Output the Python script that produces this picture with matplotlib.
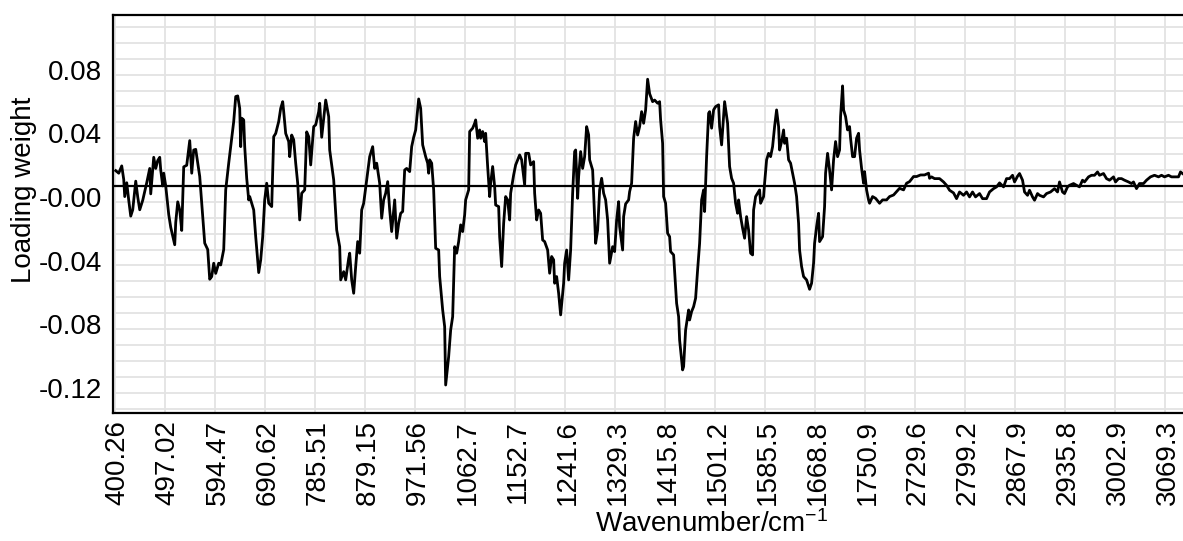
import numpy as np
import matplotlib
matplotlib.use("Agg")
import matplotlib.pyplot as plt
from matplotlib.transforms import ScaledTranslation

plt.rcParams['font.family'] = ['Liberation Sans', 'DejaVu Sans']
plt.rcParams['mathtext.default'] = 'regular'
plt.rcParams['axes.unicode_minus'] = False

# wavenumber labels, one every 50 spectral channels
wn_labels = ['400.26', '497.02', '594.47', '690.62', '785.51', '879.15', '971.56',
             '1062.7', '1152.7', '1241.6', '1329.3', '1415.8', '1501.2', '1585.5',
             '1668.8', '1750.9', '2729.6', '2799.2', '2867.9', '2935.8', '3002.9',
             '3069.3']

# loading weights (channel index, value)
channel = [
    1, 4, 7, 9, 10, 12, 14, 16, 18, 21, 23, 25, 28, 32, 35, 36, 39, 41, 43, 45,
    46, 48, 49, 51, 54, 56, 60, 61, 63, 65, 67, 69, 72, 75, 77, 79, 81, 85, 88, 90,
    93, 95, 97, 99, 101, 104, 106, 109, 111, 114, 116, 119, 121, 123, 125, 126, 127, 129, 130, 132,
    134, 135, 139, 141, 144, 146, 148, 150, 152, 154, 157, 159, 161, 164, 166, 168, 169, 171, 174, 175,
    177, 179, 181, 183, 185, 187, 190, 192, 194, 196, 199, 201, 204, 205, 207, 209, 211, 214, 215, 219,
    222, 225, 226, 229, 231, 234, 235, 237, 239, 241, 243, 245, 247, 249, 252, 255, 258, 260, 262, 265,
    267, 269, 271, 273, 275, 277, 280, 282, 284, 286, 288, 290, 292, 295, 297, 299, 301, 304, 306, 308,
    311, 313, 314, 315, 317, 319, 321, 324, 325, 328, 330, 331, 334, 336, 338, 340, 342, 344, 346, 348,
    350, 351, 354, 355, 358, 360, 361, 363, 365, 366, 368, 370, 371, 373, 375, 376, 378, 380, 381, 384,
    385, 387, 389, 391, 393, 395, 396, 399, 401, 405, 407, 410, 411, 414, 416, 419, 420, 422, 424, 426,
    428, 430, 433, 435, 437, 439, 440, 442, 444, 446, 449, 450, 452, 454, 456, 458, 460, 461, 463, 464,
    466, 468, 470, 472, 474, 475, 478, 479, 481, 483, 485, 487, 489, 491, 493, 495, 498, 500, 502, 504,
    505, 508, 509, 511, 514, 515, 517, 519, 521, 523, 525, 527, 529, 531, 533, 535,
    538, 540, 543, 545, 546, 548, 549, 551, 553, 555, 556, 559, 560, 562, 564, 565, 568, 569, 571, 572,
    574, 575, 577, 579, 581, 583, 585, 587, 589, 590, 592, 594, 595, 597, 599, 601, 604, 605, 607, 609,
    610, 613, 615, 617, 619, 621, 623, 624, 626, 628, 630, 632, 634, 636, 638, 639, 641, 643, 645, 646,
    649, 650, 652, 654, 656, 658, 660, 662, 664, 665, 667, 669, 670, 672, 674, 676, 678, 680, 682, 684,
    685, 687, 689, 692, 695, 697, 699, 700, 702, 704, 705, 708, 710, 711, 713, 715, 717, 719, 721, 723,
    725, 726, 728, 729, 731, 733, 735, 736, 738, 740, 742, 744, 745, 747, 749, 750, 752, 754, 755, 758,
    761, 765, 768, 772, 775, 779, 782, 785, 789, 792, 795, 799, 802, 806, 810, 814, 815,
    817, 820, 825, 829, 832, 835, 839, 842, 845, 849, 852, 855, 858, 861, 865, 868, 872, 875, 879, 882,
    885, 889, 892, 895, 898, 900, 903, 905, 908, 910, 913, 915, 918, 920, 923, 925, 929, 932, 936, 940,
    943, 945, 948, 950, 953, 955, 959, 962, 965, 968, 970, 974, 977, 980, 983, 985, 989, 992, 995, 999,
    1001, 1004, 1007, 1010, 1014, 1017, 1019, 1022, 1025, 1029, 1032, 1036, 1040, 1044, 1047, 1050, 1054, 1057, 1060, 1064,
    1066, 1068,
]
loading = [
    0.0096, 0.008, 0.0126, 0.004, -0.0067, 0.002, -0.009, -0.019, -0.015, 0.003, -0.007, -0.015, -0.009, 0.002, 0.011, -0.005, 0.018, 0.011, 0.016, 0.018,
    0.010, 0.000, 0.008, 0.000, -0.018, -0.026, -0.037, -0.023, -0.010, -0.015, -0.028, 0.012, 0.013, 0.0285, 0.008, 0.0226, 0.023, 0.006, -0.019, -0.036,
    -0.040, -0.0587, -0.057, -0.0486, -0.055, -0.0486, -0.0497, -0.040, -0.0025, 0.0143, 0.0247, 0.0405, 0.0562, 0.0566, 0.0488, 0.0247, 0.0426, 0.0415, 0.0247, 0.0048,
    -0.0088, -0.0067, -0.0151, -0.0319, -0.0545, -0.0465, -0.0319, -0.0088, 0.0017, -0.0109, -0.013, 0.031, 0.033, 0.0405, 0.0488, 0.053, 0.0467, 0.033, 0.0279, 0.0184,
    0.032, 0.029, 0.0143, 0.0017, -0.0214, -0.0046, -0.0025, 0.034, 0.031, 0.0132, 0.0373, 0.0384, 0.0467, 0.052, 0.0306, 0.0426, 0.054, 0.0436, 0.0226, 0.0038,
    -0.0277, -0.0382, -0.0591, -0.0539, -0.0591, -0.0455, -0.0423, -0.0591, -0.0675, -0.0507, -0.035, -0.0423, -0.0151, -0.0109, 0.0038, 0.0184, 0.0247, 0.011, 0.0143, 0.0017,
    -0.0203, -0.0088, -0.0046, 0.0027, -0.0151, -0.0287, -0.0088, -0.0329, -0.0235, -0.0172, -0.0161, 0.010, 0.011, 0.009, 0.0247, 0.0306, 0.0352, 0.0547, 0.0488, 0.0258,
    0.0184, 0.0143, 0.008, 0.0164, 0.0143, -0.0025, -0.0392, -0.0403, -0.057, -0.078, -0.0885, -0.1252, -0.1073, -0.0906, -0.0822, -0.0382, -0.0423, -0.035, -0.0245, -0.0287,
    -0.0182, -0.0088, -0.0025, 0.0342, 0.0363, 0.0394, 0.0415, 0.030, 0.0352, 0.030, 0.0342, 0.0279, 0.0331, 0.0122, -0.0067, 0.0017, 0.0122, -0.0004, -0.012, -0.013,
    -0.0319, -0.0507, -0.0235, -0.0067, -0.0088, -0.0214, -0.0046, 0.0069, 0.0132, 0.0195, 0.0164, 0.0006, 0.0205, 0.0205, 0.0132, 0.0153, -0.0046, -0.0214, -0.0151, -0.0172,
    -0.034, -0.035, -0.0403, -0.0549, -0.0444, -0.0465, -0.0612, -0.057, -0.0675, -0.0811, -0.0612, -0.0486, -0.0403, -0.0591, -0.0403, -0.0046, 0.0216, 0.0226, -0.0078, 0.0059,
    0.0216, 0.011, 0.0184, 0.0373, 0.0321, 0.0164, 0.010, -0.0046, -0.0361, -0.0277, -0.0025, 0.0048, -0.0046, -0.0088, -0.0214, -0.0486, -0.0382, -0.0413, -0.0214, -0.0099,
    -0.0256, -0.0403, -0.0193, -0.0113, -0.0088, -0.0036, 0.0017, 0.030, 0.0405, 0.032, 0.0373, 0.0467, 0.0394, 0.0478, 0.0671, 0.058,
    0.053, 0.054, 0.052, 0.053, 0.0415, 0.0268, -0.0067, -0.0109, -0.0298, -0.0319, -0.0413, -0.0434, -0.0539, -0.0738, -0.0822, -0.0969, -0.1157, -0.1136, -0.0906, -0.0864,
    -0.078, -0.0843, -0.079, -0.0759, -0.0706, -0.0528, -0.0361, -0.0088, -0.0025, -0.0161, 0.0184, 0.0457, 0.0467, 0.0363, 0.0478, 0.0499, 0.051, 0.0373, 0.0258, 0.0436,
    0.053, 0.0394, 0.0122, 0.0048, 0.0017, -0.0109, -0.0172, -0.0088, -0.0193, -0.0266, -0.0329, -0.0193, -0.0277, -0.0423, -0.0434, -0.0151, -0.0067, -0.0046, -0.0025, -0.0109,
    -0.0067, 0.0017, 0.0164, 0.0205, 0.0184, 0.0247, 0.0373, 0.0478, 0.0373, 0.0226, 0.0279, 0.0352, 0.0268, 0.030, 0.0164, 0.0143, 0.008, 0.0017, -0.0067, -0.0235,
    -0.0403, -0.0507, -0.057, -0.0591, -0.065, -0.0612, -0.0486, -0.0361, -0.0256, -0.0172, -0.035, -0.0319, -0.013, 0.008, 0.0205, 0.010, -0.0025, 0.0164, 0.0279, 0.0184,
    0.0226, 0.0436, 0.0629, 0.0478, 0.0436, 0.0352, 0.0373, 0.030, 0.0184, 0.0184, 0.030, 0.0331, 0.0226, 0.0111, 0.0017, 0.009, -0.0025, -0.0088, -0.0109, -0.0067,
    -0.0078, -0.0109, -0.0088, -0.0088, -0.0067, -0.0057, -0.0036, -0.0015, -0.0025, 0.0017, 0.0027, 0.0059, 0.0059, 0.0069, 0.0069, 0.008, 0.0048,
    0.0057, 0.0046, 0.0046, 0.0025, 0.0004, -0.0027, -0.0044, -0.008, -0.0038, -0.0059, -0.0038, -0.0069, -0.0038, -0.0069, -0.0048, -0.008, -0.008, -0.0038, -0.0017, -0.0006,
    0.0019, -0.0006, 0.0046, 0.0046, 0.0067, 0.0025, 0.0061, 0.0078, 0.0036, -0.0038, -0.0059, -0.0027, -0.0069, -0.009, -0.0048, -0.0059, -0.0069, -0.0048, -0.0038, -0.0017,
    -0.0038, 0.0025, -0.0038, -0.0048, -0.0006, 0.0004, 0.0015, 0.0004, -0.0006, 0.0036, 0.0025, 0.0057, 0.0067, 0.0067, 0.0088, 0.0067, 0.0078, 0.0046, 0.0036, 0.0057,
    0.0025, 0.0046, 0.0046, 0.0036, 0.0025, 0.0015, 0.0025, -0.0017, 0.0015, 0.0015, 0.0036, 0.0057, 0.0067, 0.0057, 0.0067, 0.0057, 0.0067, 0.0057, 0.0057, 0.0057,
    0.0088, 0.0078,
]

ytick_vals = [-0.12, -0.08, -0.04, 0.0, 0.04, 0.08]
ytick_labels = ['-0.12', '-0.08', '-0.04', '-0.00', '0.04', '0.08']

fig = plt.figure(figsize=(11.83, 5.41), dpi=100)
ax = fig.add_axes([0.0953, 0.2366, 0.9047, 0.7357])

ax.plot(channel, loading, color='black', lw=2.0, solid_joinstyle='round', zorder=3)
ax.axhline(0, color='black', lw=1.6, zorder=2)

ax.set_xlim(-2, 1068.5)
ax.set_ylim(-0.1428, 0.1075)

ax.set_xticks(np.arange(len(wn_labels)) * 50)
ax.set_xticklabels(wn_labels, rotation=90, fontsize=20)
ax.set_yticks(ytick_vals)
ax.set_yticklabels(ytick_labels, fontsize=20)
ax.set_yticks(np.arange(-0.14, 0.105, 0.01), minor=True)
ax.tick_params(axis='both', which='both', length=0)
ax.tick_params(axis='x', pad=5)
ax.tick_params(axis='y', pad=8)

ax.grid(True, axis='x', color='#e3e3e3', lw=1.3, zorder=0)
ax.grid(True, axis='y', which='both', color='#e3e3e3', lw=1.3, zorder=0)
ax.set_axisbelow(True)

# the y labels sit a little below their grid lines in the original
shift = ScaledTranslation(0, -11 / 100, fig.dpi_scale_trans)
for lab in ax.get_yticklabels():
    lab.set_transform(lab.get_transform() + shift)

# x labels sit slightly right of their grid lines
xshift = ScaledTranslation(3 / 100, 0, fig.dpi_scale_trans)
for lab in ax.get_xticklabels():
    lab.set_transform(lab.get_transform() + xshift)

for s in ['left', 'bottom', 'top']:
    ax.spines[s].set_linewidth(1.6)
ax.spines['right'].set_visible(False)

ax.set_xlabel(r'Wavenumber/cm$^{-1}$', fontsize=20)
ax.xaxis.set_label_coords(0.56, -0.245)
ax.set_ylabel('Loading weight', fontsize=20)
ax.yaxis.set_label_coords(-0.071, 0.56)

fig.savefig('out.png', dpi=100)
